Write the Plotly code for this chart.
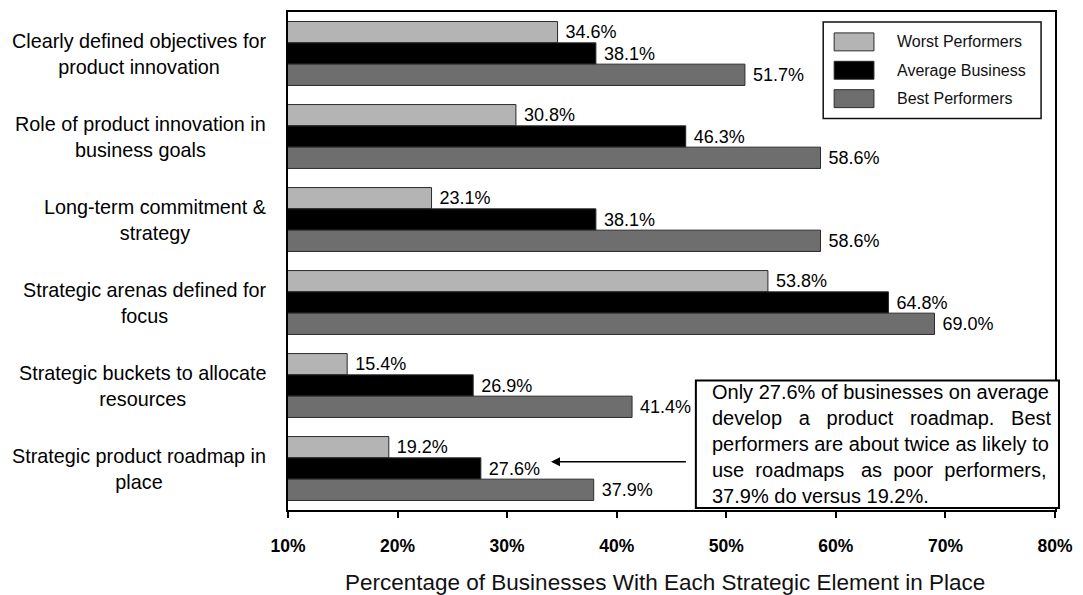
import plotly.graph_objects as go

# Strategic elements (top to bottom) and share of businesses with each in place (%)
categories = [
    "Clearly defined objectives for<br>product innovation",
    "Role of product innovation in<br>business goals",
    "Long-term commitment &<br>strategy",
    "Strategic arenas defined for<br>focus",
    "Strategic buckets to allocate<br>resources",
    "Strategic product roadmap in<br>place",
]
series_names = ["Worst Performers", "Average Business", "Best Performers"]
worst = [34.6, 30.8, 23.1, 53.8, 15.4, 19.2]
average = [38.1, 46.3, 38.1, 64.8, 26.9, 27.6]
best = [51.7, 58.6, 58.6, 69.0, 41.4, 37.9]
series_colors = ["#b4b4b4", "#000000", "#6e6e6e"]

x_ticks = [10, 20, 30, 40, 50, 60, 70, 80]
x_tick_text = [f"{t}%" for t in x_ticks]

callout_lines = [
    "Only 27.6% of businesses on average",
    "develop\u00a0\u00a0\u00a0a\u00a0\u00a0\u00a0product\u00a0\u00a0\u00a0roadmap.\u00a0\u00a0\u00a0Best",
    "performers are about twice as likely to",
    "use\u00a0\u00a0roadmaps\u00a0\u00a0\u00a0as\u00a0\u00a0poor\u00a0\u00a0performers,",
    "37.9% do versus 19.2%.",
]

FONT = "Liberation Sans, Arial, sans-serif"
W, H = 1083, 595
M_L, M_R, M_T, M_B = 288, 24, 10, 85
PW, PH = W - M_L - M_R, H - M_T - M_B


def px_x(px):
    return (px - M_L) / PW


def px_y(py):
    return (H - M_B - py) / PH


fig = go.Figure()
for name, vals, col in zip(series_names, [worst, average, best], series_colors):
    fig.add_trace(go.Bar(
        y=categories, x=vals, orientation="h", name=name,
        marker=dict(color=col, line=dict(color="#2a2a2a", width=1)),
        text=[f"\u00a0{v:.1f}%" for v in vals], textposition="outside",
        textfont=dict(family=FONT, size=18, color="#000"),
        constraintext="none", cliponaxis=False, showlegend=False,
    ))

shapes = []
annotations = []

# Category labels, centred lines, right edge just left of the plot frame
for cat in categories:
    annotations.append(dict(
        x=px_x(268), xref="paper", xanchor="right",
        y=cat, yref="y", yanchor="middle",
        text=cat, align="center", showarrow=False,
        font=dict(family=FONT, size=19.8, color="#000"),
    ))

# Legend box with swatches
shapes.append(dict(type="rect", xref="paper", yref="paper",
                   x0=px_x(826), x1=px_x(1045), y0=px_y(117), y1=px_y(20),
                   line=dict(color="#111", width=1.5), fillcolor="white"))
for i, (name, col) in enumerate(zip(series_names, series_colors)):
    cy = 40 + 28.5 * i
    shapes.append(dict(type="rect", xref="paper", yref="paper",
                       x0=px_x(837), x1=px_x(877), y0=px_y(cy + 9), y1=px_y(cy - 9),
                       line=dict(color="#2a2a2a", width=1), fillcolor=col))
    annotations.append(dict(
        x=px_x(898), xref="paper", xanchor="left",
        y=px_y(cy), yref="paper", yanchor="middle",
        text=name, showarrow=False,
        font=dict(family=FONT, size=16, color="#111"),
    ))

# Call-out box
shapes.append(dict(type="rect", xref="paper", yref="paper",
                   x0=px_x(698), x1=px_x(1063), y0=px_y(508), y1=px_y(380),
                   line=dict(color="#000", width=2), fillcolor="white"))
annotations.append(dict(
    x=px_x(712), xref="paper", xanchor="left",
    y=px_y(444), yref="paper", yanchor="middle",
    text="<br>".join(callout_lines), align="left", showarrow=False,
    font=dict(family=FONT, size=20, color="#000"),
))

# Arrow from the call-out toward the average roadmap bar label
annotations.append(dict(
    x=34.0, y=4.92, xref="x", yref="y",
    ax=46.45, ay=4.92, axref="x", ayref="y",
    text="", showarrow=True, arrowhead=2, arrowsize=1.2, arrowwidth=1.5,
    arrowcolor="#000",
))

# X-axis title
annotations.append(dict(
    x=px_x(667), xref="paper", xanchor="center",
    y=px_y(583), yref="paper", yanchor="middle",
    text="Percentage of Businesses With Each Strategic Element in Place",
    showarrow=False, font=dict(family=FONT, size=22.5, color="#111"),
))

fig.update_layout(
    width=W, height=H,
    margin=dict(l=M_L, r=M_R, t=M_T, b=M_B),
    paper_bgcolor="white", plot_bgcolor="white",
    barmode="group", bargap=0.23, bargroupgap=0,
    showlegend=False,
    shapes=shapes, annotations=annotations,
    xaxis=dict(
        range=[10, 80], tickvals=x_ticks, ticktext=x_tick_text,
        showgrid=False, zeroline=False,
        showline=True, mirror=True, linecolor="#000", linewidth=2,
        ticks="outside", ticklen=6, tickwidth=1.5, tickcolor="#000",
        ticklabelstandoff=13,
        tickfont=dict(family=FONT, size=17.5, color="#000", weight="bold"),
    ),
    yaxis=dict(
        autorange="reversed", showticklabels=False, showgrid=False,
        showline=True, mirror=True, linecolor="#000", linewidth=2,
        ticks="",
    ),
)

fig.write_html("out.html")
